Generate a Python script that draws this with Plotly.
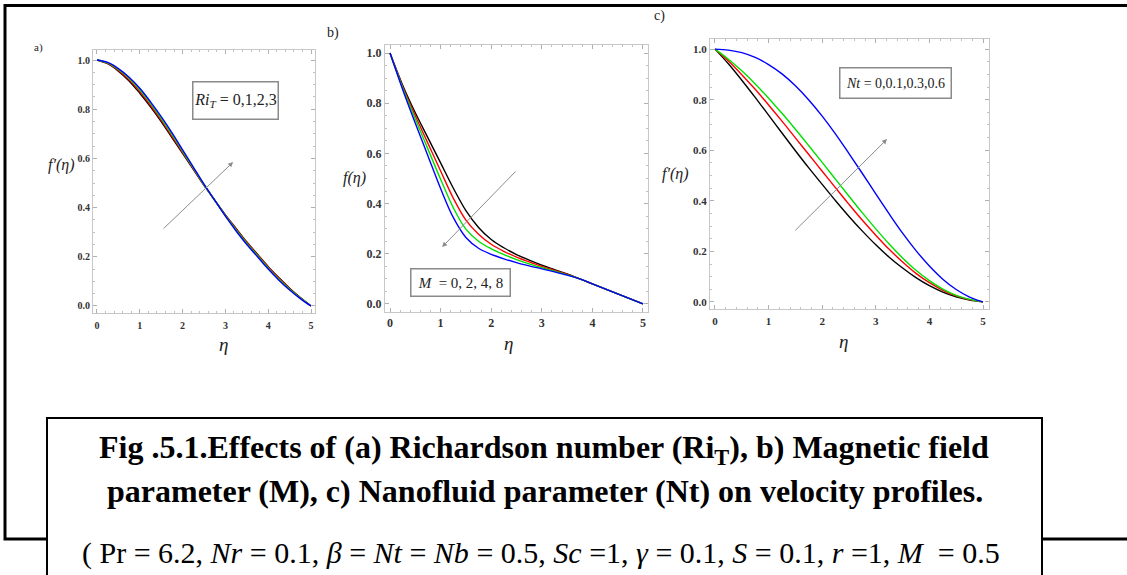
import plotly.graph_objects as go

W, H = 1127, 575

eta = [0, 0.25, 0.5, 0.75, 1.0, 1.25, 1.5, 1.75, 2.0, 2.25, 2.5, 2.75,
       3.0, 3.25, 3.5, 3.75, 4.0, 4.25, 4.5, 4.75, 5.0]

# Panel a: Richardson number Ri_T = 0, 1, 2, 3
ri_labels = ["0", "1", "2", "3"]
a_ri0 = [1.0, 0.985, 0.955, 0.915, 0.865, 0.81, 0.75, 0.685, 0.62, 0.555, 0.49, 0.43,
         0.37, 0.315, 0.26, 0.21, 0.16, 0.115, 0.072, 0.034, 0.0]
a_ri1 = [1.0, 0.986, 0.958, 0.92, 0.872, 0.816, 0.756, 0.69, 0.625, 0.558, 0.492, 0.43,
         0.369, 0.313, 0.258, 0.208, 0.158, 0.113, 0.07, 0.033, 0.0]
a_ri2 = [1.0, 0.988, 0.962, 0.926, 0.879, 0.824, 0.763, 0.698, 0.63, 0.561, 0.493, 0.43,
         0.367, 0.309, 0.254, 0.204, 0.154, 0.109, 0.068, 0.032, 0.0]
a_ri3 = [1.0, 0.99, 0.965, 0.93, 0.885, 0.83, 0.77, 0.705, 0.635, 0.565, 0.495, 0.43,
         0.365, 0.305, 0.25, 0.2, 0.15, 0.105, 0.065, 0.03, 0.0]

# Panel b: magnetic parameter M = 0, 2, 4, 8
m_labels = ["0", "2", "4", "8"]
b_m0 = [1.0, 0.872, 0.762, 0.662, 0.562, 0.462, 0.372, 0.305, 0.257, 0.224, 0.197, 0.175,
        0.155, 0.137, 0.12, 0.1, 0.08, 0.06, 0.04, 0.02, 0.0]
b_m2 = [1.0, 0.866, 0.75, 0.64, 0.53, 0.422, 0.334, 0.278, 0.238, 0.21, 0.187, 0.168,
        0.15, 0.134, 0.118, 0.1, 0.08, 0.06, 0.04, 0.02, 0.0]
b_m4 = [1.0, 0.861, 0.737, 0.617, 0.497, 0.384, 0.298, 0.25, 0.22, 0.197, 0.177, 0.16,
        0.145, 0.131, 0.116, 0.1, 0.08, 0.06, 0.04, 0.02, 0.0]
b_m8 = [1.0, 0.855, 0.72, 0.59, 0.46, 0.345, 0.265, 0.222, 0.198, 0.18, 0.165, 0.152,
        0.14, 0.128, 0.115, 0.1, 0.08, 0.06, 0.04, 0.02, 0.0]

# Panel c: nanofluid parameter Nt = 0, 0.1, 0.3, 0.6
nt_labels = ["0", "0.1", "0.3", "0.6"]
c_nt0 = [1.0, 0.942, 0.877, 0.809, 0.739, 0.668, 0.598, 0.53, 0.465, 0.4, 0.338, 0.28,
         0.226, 0.177, 0.134, 0.096, 0.064, 0.039, 0.02, 0.007, 0.0]
c_nt1 = [1.0, 0.953, 0.899, 0.841, 0.779, 0.715, 0.649, 0.583, 0.517, 0.451, 0.386, 0.323,
         0.264, 0.208, 0.158, 0.113, 0.076, 0.046, 0.024, 0.009, 0.0]
c_nt3 = [1.0, 0.96, 0.914, 0.862, 0.806, 0.746, 0.683, 0.618, 0.552, 0.485, 0.418, 0.352,
         0.289, 0.229, 0.174, 0.125, 0.084, 0.051, 0.026, 0.01, 0.0]
c_nt6 = [1.0, 0.996, 0.986, 0.967, 0.939, 0.902, 0.855, 0.799, 0.735, 0.664, 0.587, 0.508,
         0.427, 0.348, 0.272, 0.203, 0.142, 0.09, 0.049, 0.019, 0.0]

line_colors = ["#000000", "#ff0000", "#00e000", "#0000ff"]

# arrow annotation positions (data units): tail -> head
arrow_a = [(1.52, 0.309), (3.18, 0.585)]
arrow_b = [(2.51, 0.534), (1.03, 0.227)]
arrow_c = [(1.47, 0.277), (3.21, 0.644)]

SERIF = "Liberation Serif"


def px_x(p):
    return p / W


def px_y(p):
    return 1 - p / H


panels = [
    dict(series=[a_ri0, a_ri1, a_ri2, a_ri3], names=ri_labels, xdom=(93, 315), ydom=(50, 313),
         xr=[-0.093, 5.093], yr=[-0.0285, 1.0407], tfs=10, xso=3),
    dict(series=[b_m0, b_m2, b_m4, b_m8], names=m_labels, xdom=(385, 648), ydom=(45, 312),
         xr=[-0.099, 5.099], yr=[-0.032, 1.032], tfs=12, xso=0),
    dict(series=[c_nt0, c_nt1, c_nt3, c_nt6], names=nt_labels, xdom=(710, 989), ydom=(39, 309),
         xr=[-0.093, 5.112], yr=[-0.028, 1.040], tfs=11, xso=2),
]

fig = go.Figure()
layout = dict(width=W, height=H, margin=dict(l=0, r=0, t=0, b=0),
              paper_bgcolor="white", plot_bgcolor="white", showlegend=False)

for i, p in enumerate(panels):
    k = "" if i == 0 else str(i + 1)
    for s, name, col in zip(p["series"], p["names"], line_colors):
        fig.add_trace(go.Scatter(x=eta, y=s, mode="lines", name=name,
                                 line=dict(color=col, width=1.4, shape="spline", smoothing=1),
                                 xaxis="x" + k, yaxis="y" + k, hoverinfo="skip"))
    tickfont = dict(family=SERIF, size=p["tfs"], color="#333333", weight="bold")
    layout["xaxis" + k] = dict(
        domain=[px_x(p["xdom"][0]), px_x(p["xdom"][1])], range=p["xr"], anchor="y" + k,
        showgrid=False, zeroline=False, showline=True, linecolor="#c8c8c8", linewidth=1,
        mirror="allticks", ticks="inside", ticklen=4, tickcolor="#b0b0b0", tickwidth=1,
        tickvals=[0, 1, 2, 3, 4, 5], ticktext=["0", "1", "2", "3", "4", "5"],
        tickfont=tickfont, ticklabelstandoff=p["xso"],
        minor=dict(ticks="inside", ticklen=2, tickcolor="#c0c0c0", dtick=0.2, showgrid=False))
    layout["yaxis" + k] = dict(
        domain=[px_y(p["ydom"][1]), px_y(p["ydom"][0])], range=p["yr"], anchor="x" + k,
        showgrid=False, zeroline=False, showline=True, linecolor="#c8c8c8", linewidth=1,
        mirror="allticks", ticks="inside", ticklen=4, tickcolor="#b0b0b0", tickwidth=1,
        tickvals=[0, 0.2, 0.4, 0.6, 0.8, 1.0], ticktext=["0.0", "0.2", "0.4", "0.6", "0.8", "1.0"],
        tickfont=tickfont, ticklabelstandoff=0,
        minor=dict(ticks="inside", ticklen=2, tickcolor="#c0c0c0", dtick=0.05, showgrid=False))

fig.update_layout(**layout)

ann = []


def text_px(x, y, t, size, italic=False, color="#222222"):
    return dict(x=px_x(x), y=px_y(y), xref="paper", yref="paper", text=t, showarrow=False,
                xanchor="center", yanchor="middle",
                font=dict(family=SERIF, size=size, color=color,
                          style="italic" if italic else "normal"))


# panel letters
ann.append(text_px(38, 47, "a)", 11))
ann.append(text_px(333, 33, "b)", 14))
ann.append(text_px(659, 16, "c)", 14))

# axis titles
ann.append(text_px(61, 165, "f′(η)", 16, italic=True))
ann.append(text_px(354, 178, "f(η)", 16, italic=True))
ann.append(text_px(675, 174, "f′(η)", 16, italic=True))
ann.append(text_px(224, 344, "η", 19, italic=True))
ann.append(text_px(508, 343, "η", 19, italic=True))
ann.append(text_px(843, 341, "η", 19, italic=True))


# legend boxes
def box(x, y, w, h, t, size):
    return dict(x=px_x(x), y=px_y(y), xref="paper", yref="paper", text=t, showarrow=False,
                xanchor="center", yanchor="middle", width=w, height=h, align="center",
                bordercolor="#8a8a8a", borderwidth=1.5, bgcolor="white", borderpad=0,
                font=dict(family=SERIF, size=size, color="#222222"))


ann.append(box(235, 101, 84, 36, "<i>Ri<sub>T</sub></i> = 0,1,2,3", 16))
ann.append(box(460, 282, 98, 26, "<i>M</i>  = 0, 2, 4, 8", 15))
ann.append(box(896, 83, 110, 29, "<i>Nt</i> = 0,0.1,0.3,0.6", 14))

# arrows
for k, arr in zip(["", "2", "3"], [arrow_a, arrow_b, arrow_c]):
    (tx, ty), (hx, hy) = arr
    ann.append(dict(x=hx, y=hy, ax=tx, ay=ty, xref="x" + k, yref="y" + k,
                    axref="x" + k, ayref="y" + k, showarrow=True, text="",
                    arrowhead=2, arrowsize=1, arrowwidth=1, arrowcolor="#8c8c8c"))

# caption
ann.append(text_px(544, 449, "<b>Fig .5.1.Effects of (a) Richardson number (Ri<sub>T</sub>), b) Magnetic field</b>",
                   32, color="#000000"))
ann.append(text_px(545, 491, "<b>parameter (M), c) Nanofluid parameter (Nt) on velocity profiles.</b>",
                   32, color="#000000"))
ann.append(text_px(541, 553,
                   "( Pr = 6.2, <i>Nr</i> = 0.1, <i>β</i> = <i>Nt</i> = <i>Nb</i> = 0.5, <i>Sc</i> =1, "
                   "<i>γ</i> = 0.1, <i>S</i> = 0.1, <i>r</i> =1, <i>M</i>  = 0.5",
                   30, color="#000000"))

shapes = [
    dict(type="rect", xref="paper", yref="paper", x0=px_x(5), x1=px_x(1140),
         y0=px_y(539), y1=px_y(5.5), line=dict(color="black", width=3), layer="above"),
    dict(type="rect", xref="paper", yref="paper", x0=px_x(47), x1=px_x(1042),
         y0=px_y(600), y1=px_y(418), line=dict(color="black", width=2),
         fillcolor="white", layer="above"),
]

fig.update_layout(annotations=ann, shapes=shapes)
fig.write_html("out.html", config={"displayModeBar": False},
               post_script="document.body.style.margin='0px';")
